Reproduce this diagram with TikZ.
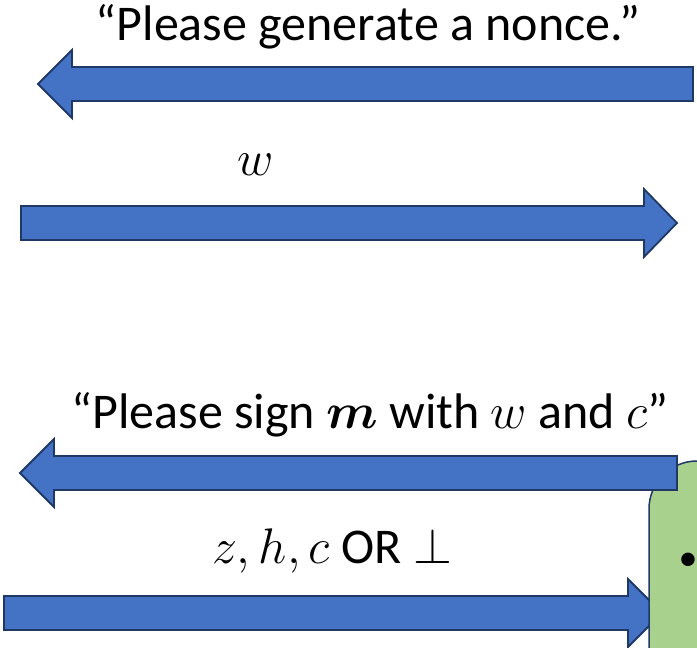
\RequirePackage{fix-cm}
\documentclass[tikz,border=0pt]{standalone}
\usepackage{amsmath, amssymb, bm}
\usepackage{fontspec}
\setmainfont{Carlito}
\usetikzlibrary{positioning}
\definecolor{arrowblue}{RGB}{68,114,196}
\definecolor{arrowedge}{RGB}{31,56,100}
\definecolor{notegreen}{RGB}{169,209,142}
\tikzset{
    msgarrow/.style={draw=arrowedge, fill=arrowblue, line width=1.8pt, line join=miter},
    notebox/.style={draw=arrowedge, fill=notegreen, line width=1.5pt, rounded corners=48pt},
    msglabel/.style={anchor=base, inner sep=0pt, font=\fontsize{50}{60}\selectfont},
}
\begin{document}
\begin{tikzpicture}[x=1pt, y=-1pt]
    \useasboundingbox (0,0) rectangle (697,648);
    % request for a nonce, and the answer
    \draw[msgarrow] (693,67) -- (72,67) -- (72,50) -- (38,84) -- (72,118) -- (72,101) -- (693,101) -- cycle;
    \draw[msgarrow] (21,206) -- (644,206) -- (644,189) -- (677,223) -- (644,257) -- (644,240) -- (21,240) -- cycle;
    % signing round
    \draw[msgarrow] (4,596) -- (628,596) -- (628,579) -- (662,613) -- (628,647) -- (628,630) -- (4,630) -- cycle;
    \draw[notebox] (649,780) -- (649,461) -- (800,461) -- (800,780) -- cycle;
    \draw[msgarrow] (677,456) -- (54,456) -- (54,439) -- (20,473) -- (54,507) -- (54,490) -- (677,490) -- cycle;

    \node[msglabel] (nonceReq) at (368,40) {“Please generate a nonce.”};
    \node[msglabel] (nonceVal) at (256,175) {$w$};
    \node[msglabel] (signReq) at (370,428) {“Please sign $\boldsymbol{m}$ with $w$ and $c$”};
    \node[msglabel] (signResp) at (332,563) {$z, h, c$ OR $\perp$};
    \node[inner sep=0pt, font=\fontsize{38}{46}\selectfont] (noteDot) at (688,562) {•};
\end{tikzpicture}
\end{document}
